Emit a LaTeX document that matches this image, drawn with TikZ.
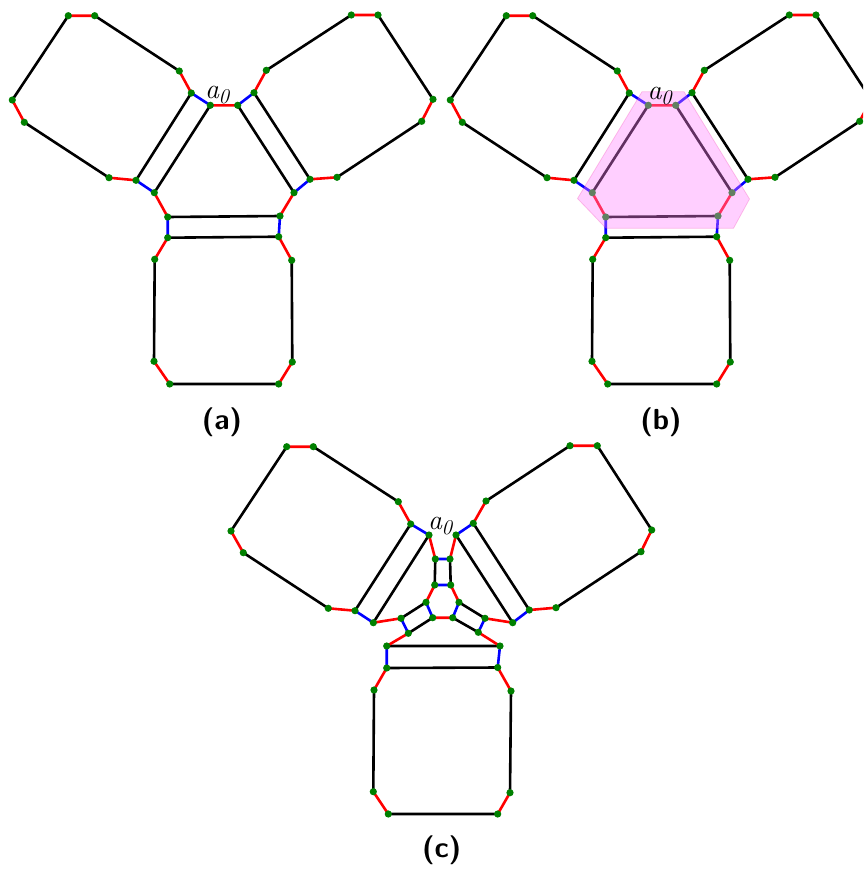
\documentclass[tikz,border=0pt]{standalone}
\usepackage{fontspec}
\definecolor{dotgreen}{RGB}{0,128,0}
\definecolor{veil}{RGB}{255,128,255}

% one copy of the three-lobed graph with its central hexagon
\newcommand\lobegraph{%
  % left lobe
  \coordinate (L1) at (12.3,100);   \coordinate (L2) at (68.3,15.7);
  \coordinate (L3) at (94.7,15.7);  \coordinate (L4) at (179.3,71);
  \coordinate (L5) at (191.3,93);   \coordinate (L6) at (136,180.3);
  \coordinate (L7) at (109,177.7);  \coordinate (L8) at (24.3,122.3);
  % central hexagon
  \coordinate (C1) at (210.3,105.3); \coordinate (C2) at (237.7,105.3);
  \coordinate (C3) at (294,192.7);   \coordinate (C4) at (280,216);
  \coordinate (C5) at (167.7,217);   \coordinate (C6) at (154.3,192.7);
  % right lobe
  \coordinate (R1) at (254,92.7);   \coordinate (R2) at (266.3,70.3);
  \coordinate (R3) at (351.3,15);   \coordinate (R4) at (378,15);
  \coordinate (R5) at (433,99.3);   \coordinate (R6) at (421.7,121.3);
  \coordinate (R7) at (337,177.3);  \coordinate (R8) at (310,179.3);
  % bottom lobe
  \coordinate (B1) at (167.7,237.7); \coordinate (B2) at (278.7,236.7);
  \coordinate (B3) at (291.7,260.3); \coordinate (B4) at (292.3,362);
  \coordinate (B5) at (278.7,384);   \coordinate (B6) at (169.7,384);
  \coordinate (B7) at (154,361.3);   \coordinate (B8) at (154.7,259.3);
  \draw[edgeK] (L1)--(L2) (L3)--(L4) (L5)--(L6) (L7)--(L8)
               (C2)--(C3) (C4)--(C5) (C6)--(C1)
               (R2)--(R3) (R4)--(R5) (R6)--(R7) (R8)--(R1)
               (B1)--(B2) (B3)--(B4) (B5)--(B6) (B7)--(B8);
  \draw[edgeR] (L2)--(L3) (L4)--(L5) (L6)--(L7) (L8)--(L1)
               (C1)--(C2) (C3)--(C4) (C5)--(C6)
               (R1)--(R2) (R3)--(R4) (R5)--(R6) (R7)--(R8)
               (B2)--(B3) (B4)--(B5) (B6)--(B7) (B8)--(B1);
  \draw[edgeB] (L5)--(C1) (C2)--(R1) (L6)--(C6) (C3)--(R8)
               (C5)--(B1) (C4)--(B2);
  \foreach \v in {L1,L2,L3,L4,L5,L6,L7,L8,C1,C2,C3,C4,C5,C6,
                  R1,R2,R3,R4,R5,R6,R7,R8,B1,B2,B3,B4,B5,B6,B7,B8}
    \fill[dotgreen] (\v) circle (3.6);
}

\newcommand\azero{{\fontsize{28}{30}\selectfont\itshape a}\kern-0.5pt\raisebox{-5pt}{\fontsize{21}{23}\selectfont\itshape 0}}

\begin{document}
\begin{tikzpicture}[x=1pt,y=-1pt,
  edgeK/.style={line width=2.6pt,black,line cap=round},
  edgeR/.style={line width=2.6pt,red,line cap=round},
  edgeB/.style={line width=2.6pt,blue,line cap=round},
  caption/.style={font=\fontsize{29}{33}\selectfont\sffamily\bfseries},
  vlabel/.style={inner sep=0pt,anchor=base west}]
\useasboundingbox (0,0) rectangle (863,870);
\clip (0,0) rectangle (863,870);

% panel (a)
\begin{scope}[name prefix=a-]
  \lobegraph
  \node[vlabel] (lab) at (205,98.5) {\azero};
\end{scope}

% panel (b): same graph, central hexagon under a translucent veil
\begin{scope}[shift={(438,0)},name prefix=b-]
  \lobegraph
  \coordinate (K1) at (204,91.7);  \coordinate (K2) at (246,91.7);
  \coordinate (K3) at (311.5,199); \coordinate (K4) at (295.5,228.3);
  \coordinate (K5) at (168,228.3); \coordinate (K6) at (139.5,198.5);
  \filldraw[fill=veil,fill opacity=0.38,draw=magenta,draw opacity=0.2,line width=0.8pt]
    (K1)--(K2)--(K3)--(K4)--(K5)--(K6)--cycle;
  \node[vlabel] (lab) at (209.5,99) {\azero};
\end{scope}

% panel (c): the hexagon expanded into a smaller three-lobed piece
\begin{scope}[name prefix=c-]
  \coordinate (l1) at (231,531);     \coordinate (l2) at (286.7,446.7);
  \coordinate (l3) at (313.3,446.7); \coordinate (l4) at (398.3,501.7);
  \coordinate (l5) at (410.7,524);   \coordinate (l6) at (355,610.7);
  \coordinate (l7) at (328.3,608.3); \coordinate (l8) at (243.3,552.7);
  \coordinate (r1) at (473.3,523.3); \coordinate (r2) at (486,501);
  \coordinate (r3) at (570,445.7);   \coordinate (r4) at (597.3,445.7);
  \coordinate (r5) at (651.7,530);   \coordinate (r6) at (641,551.7);
  \coordinate (r7) at (556,607.7);   \coordinate (r8) at (529.3,610);
  \coordinate (p1) at (429,535);     \coordinate (p2) at (456,535);
  \coordinate (q1) at (435.3,559);   \coordinate (q2) at (450,559);
  \coordinate (q3) at (434.7,585);   \coordinate (q4) at (450.7,585);
  \coordinate (h1) at (426,602.3);   \coordinate (h2) at (459,602.3);
  \coordinate (h3) at (432.7,617.7); \coordinate (h4) at (452.7,617.7);
  \coordinate (s1) at (401,618.3);   \coordinate (s2) at (408.3,633.3);
  \coordinate (s3) at (373.3,622.7);
  \coordinate (t1) at (485,618.3);   \coordinate (t2) at (478.3,632.3);
  \coordinate (t3) at (512.7,622.7);
  \coordinate (u1) at (386.7,646);   \coordinate (u2) at (500,646);
  \coordinate (b1) at (386.7,668);   \coordinate (b2) at (497.7,667.5);
  \coordinate (b3) at (511,691);     \coordinate (b4) at (510,792.7);
  \coordinate (b5) at (497.7,814);   \coordinate (b6) at (388.3,814);
  \coordinate (b7) at (373.3,791.7); \coordinate (b8) at (374,690);
  \draw[edgeK] (l1)--(l2) (l3)--(l4) (l5)--(l6) (l7)--(l8)
               (r2)--(r3) (r4)--(r5) (r6)--(r7) (r8)--(r1)
               (p1)--(s3) (p2)--(t3) (q1)--(q3) (q2)--(q4)
               (h1)--(s1) (h3)--(s2) (h2)--(t1) (h4)--(t2)
               (u1)--(u2) (b1)--(b2) (b3)--(b4) (b5)--(b6) (b7)--(b8);
  \draw[edgeR] (l2)--(l3) (l4)--(l5) (l6)--(l7) (l8)--(l1)
               (r1)--(r2) (r3)--(r4) (r5)--(r6) (r7)--(r8)
               (p1)--(q1) (p2)--(q2) (q3)--(h1) (q4)--(h2) (h3)--(h4)
               (s3)--(s1) (t3)--(t1) (s2)--(u1) (t2)--(u2)
               (b2)--(b3) (b4)--(b5) (b6)--(b7) (b8)--(b1);
  \draw[edgeB] (l5)--(p1) (r1)--(p2) (l6)--(s3) (r8)--(t3)
               (q1)--(q2) (q3)--(q4) (h1)--(h3) (h2)--(h4)
               (s1)--(s2) (t1)--(t2) (u1)--(b1) (u2)--(b2);
  \foreach \v in {l1,l2,l3,l4,l5,l6,l7,l8,r1,r2,r3,r4,r5,r6,r7,r8,
                  p1,p2,q1,q2,q3,q4,h1,h2,h3,h4,s1,s2,s3,t1,t2,t3,
                  u1,u2,b1,b2,b3,b4,b5,b6,b7,b8}
    \fill[dotgreen] (\v) circle (3.6);
  \node[vlabel] (lab) at (428,529) {\azero};
\end{scope}

% captions
\node[caption] (capa) at (222,422) {(a)};
\node[caption] (capb) at (661,422) {(b)};
\node[caption] (capc) at (441.7,850) {(c)};
\end{tikzpicture}
\end{document}
